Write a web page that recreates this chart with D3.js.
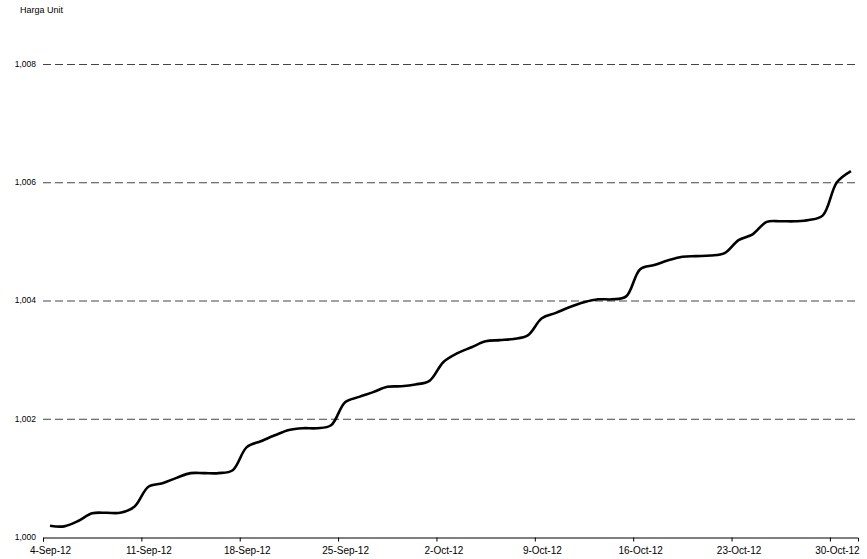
<!DOCTYPE html>
<html>
<head>
<meta charset="utf-8">
<script src="https://cdn.jsdelivr.net/npm/d3@7"></script>
<style>
  body { margin: 0; background: #fff; }
  svg { display: block; font-family: "Liberation Sans Narrow", "Liberation Sans", Arial, sans-serif; }
  .grid line { stroke: #444; stroke-dasharray: 8 4; }
  .x-axis path, .x-axis line { stroke: #000; }
</style>
</head>
<body>
<svg class="line-chart" width="867" height="559"></svg>
<script>
// daily unit price, starting 4 Sep 2012
const startDate = new Date(2012, 8, 4);
const prices = [
  1.00019, 1.00018, 1.00027, 1.00040, 1.00041, 1.00041, 1.00051,
  1.00085, 1.00091, 1.00100, 1.00108, 1.00108, 1.00108, 1.00113,
  1.00152, 1.00162, 1.00172, 1.00181, 1.00184, 1.00184, 1.00189,
  1.00228, 1.00237, 1.00245, 1.00254, 1.00255, 1.00258, 1.00264,
  1.00296, 1.00311, 1.00321, 1.00331, 1.00333, 1.00335, 1.00341,
  1.00370, 1.00379, 1.00389, 1.00397, 1.00402, 1.00402, 1.00407,
  1.00453, 1.00460, 1.00468, 1.00474, 1.00475, 1.00476, 1.00480,
  1.00502, 1.00512, 1.00533, 1.00534, 1.00534, 1.00536, 1.00544,
  1.00600, 1.00619
];
const yTicks = [1.000, 1.002, 1.004, 1.006, 1.008];
const xTickLabels = ['4-Sep-12', '11-Sep-12', '18-Sep-12', '25-Sep-12', '2-Oct-12',
  '9-Oct-12', '16-Oct-12', '23-Oct-12', '30-Oct-12'];

const parseDay = d3.timeParse('%d-%b-%y');
const xTicks = xTickLabels.map((s) => parseDay(s));
const data = prices.map((v, i) => ({ date: d3.timeDay.offset(startDate, i), value: v }));

const svg = d3.select('svg.line-chart');
const m = { left: 43, right: 858, top: 64, bottom: 537 };

const x = d3.scaleTime()
  .domain([startDate, d3.timeDay.offset(startDate, 58)])
  .range([m.left, m.right]);
const y = d3.scaleLinear().domain([1.000, 1.008]).range([m.bottom, m.top]);
const midDay = (d) => d3.timeHour.offset(d, 12);
const halfDay = x(midDay(startDate)) - x(startDate);

const idLocale = d3.formatLocale({ decimal: ',', thousands: '.', grouping: [3], currency: ['Rp', ''] });
const yFormat = idLocale.format('.3f');

// dashed gridlines
svg.append('g').attr('class', 'grid')
  .selectAll('line')
  .data(yTicks.slice(1))
  .join('line')
  .attr('x1', m.left).attr('x2', m.right)
  .attr('y1', (d) => y(d) + 0.5).attr('y2', (d) => y(d) + 0.5);

// y labels, no axis line
svg.append('g')
  .selectAll('text')
  .data(yTicks)
  .join('text')
  .attr('x', m.left - 7)
  .attr('y', (d) => y(d))
  .attr('dy', '0.35em')
  .attr('text-anchor', 'end')
  .attr('font-size', 8.5)
  .text(yFormat);

// labels sit in the middle of their day, ticks on the day boundary
svg.append('g')
  .attr('class', 'x-axis')
  .attr('transform', 'translate(0,' + (m.bottom + 0.5) + ')')
  .call(d3.axisBottom(x).tickValues(xTicks).tickSizeOuter(0).tickSize(4).tickFormat(d3.timeFormat('%-d-%b-%y')))
  .call((g) => g.selectAll('text')
    .attr('font-size', 10)
    .attr('fill', '#000')
    .attr('x', halfDay)
    .attr('dy', '0.95em'));

svg.append('text')
  .attr('x', 20).attr('y', 13)
  .attr('font-size', 9)
  .text('Harga Unit');

const line = d3.line()
  .x((d) => x(midDay(d.date)))
  .y((d) => y(d.value))
  .curve(d3.curveCatmullRom);

svg.append('path')
  .datum(data)
  .attr('fill', 'none')
  .attr('stroke', '#000')
  .attr('stroke-width', 2.6)
  .attr('d', line);
</script>
</body>
</html>
